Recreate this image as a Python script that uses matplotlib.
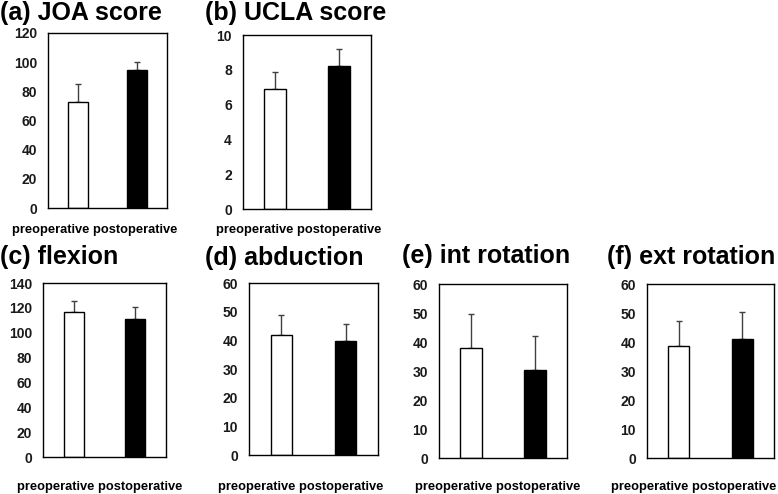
import matplotlib
matplotlib.use("Agg")
import matplotlib.pyplot as plt

plt.rcParams["font.family"] = ["Liberation Sans", "DejaVu Sans"]
plt.rcParams["font.weight"] = "bold"

# ---------------------------------------------------------------------------
# Data (mean, SD)
# ---------------------------------------------------------------------------
categories = ["preoperative", "postoperative"]

titles = ["(a) JOA score", "(b) UCLA score", "(c) flexion",
          "(d) abduction", "(e) int rotation", "(f) ext rotation"]

joa_mean = [72.4, 94.7]
joa_sd = [12.4, 5.1]
ucla_mean = [6.88, 8.24]
ucla_sd = [1.0, 0.96]
flexion_mean = [116.9, 110.8]
flexion_sd = [8.9, 10.1]
abduction_mean = [41.8, 39.6]
abduction_sd = [6.9, 6.0]
int_rot_mean = [37.9, 30.2]
int_rot_sd = [11.9, 12.0]
ext_rot_mean = [38.7, 41.0]
ext_rot_sd = [8.6, 9.4]

y_max = [120, 10, 140, 60, 60, 60]
y_step = [20, 2, 20, 10, 10, 10]

# ---------------------------------------------------------------------------
# Layout (pixel boxes: left, top, right, bottom) on a 778x494 canvas
# ---------------------------------------------------------------------------
W, H = 778, 494
axes_px = [(48, 33, 167, 208), (243, 35, 371, 209),
           (43, 283, 166, 457), (249, 283, 378, 455),
           (439, 284, 567, 458), (647, 284, 774, 458)]
title_px = [(0, 13), (205, 13), (0, 257), (205, 258), (402, 256), (607, 257)]
label_px = [(95, 230), (299, 230), (99.5, 487), (300.5, 487),
            (498, 487), (693.5, 487)]

means = [joa_mean, ucla_mean, flexion_mean, abduction_mean, int_rot_mean, ext_rot_mean]
sds = [joa_sd, ucla_sd, flexion_sd, abduction_sd, int_rot_sd, ext_rot_sd]

fig = plt.figure(figsize=(W / 100, H / 100), dpi=100)

for i in range(6):
    l, t, r, b = axes_px[i]
    ax = fig.add_axes([l / W, 1 - b / H, (r - l) / W, (b - t) / H])
    x = [0, 1]
    ax.errorbar(x, means[i], yerr=[[0, 0], sds[i]], fmt="none",
                ecolor="#404040", elinewidth=1.0, capsize=2.5, capthick=1.0, zorder=1)
    ax.bar(x, means[i], width=0.33, color=["white", "black"],
           edgecolor="black", linewidth=1.0, zorder=2)
    ax.set_xlim(-0.5, 1.5)
    ax.set_ylim(0, y_max[i])
    ax.set_yticks(range(0, y_max[i] + 1, y_step[i]))
    ax.set_xticks([])
    ax.tick_params(axis="y", length=0, pad=8, labelsize=10)
    for lab in ax.get_yticklabels():
        lab.set_fontweight("bold")
        lab.set_color("#1a1a1a")
    for sp in ax.spines.values():
        sp.set_linewidth(1.0)
        sp.set_color("black")

    tx, ty = title_px[i]
    fig.text(tx / W, 1 - ty / H, titles[i], ha="left", va="center",
             fontsize=18, fontweight="bold", color="black")
    cx, cy = label_px[i]
    fig.text(cx / W, 1 - cy / H, " ".join(categories), ha="center", va="center",
             fontsize=9.3, fontweight="bold", color="black")

fig.savefig("out.png", dpi=100)
